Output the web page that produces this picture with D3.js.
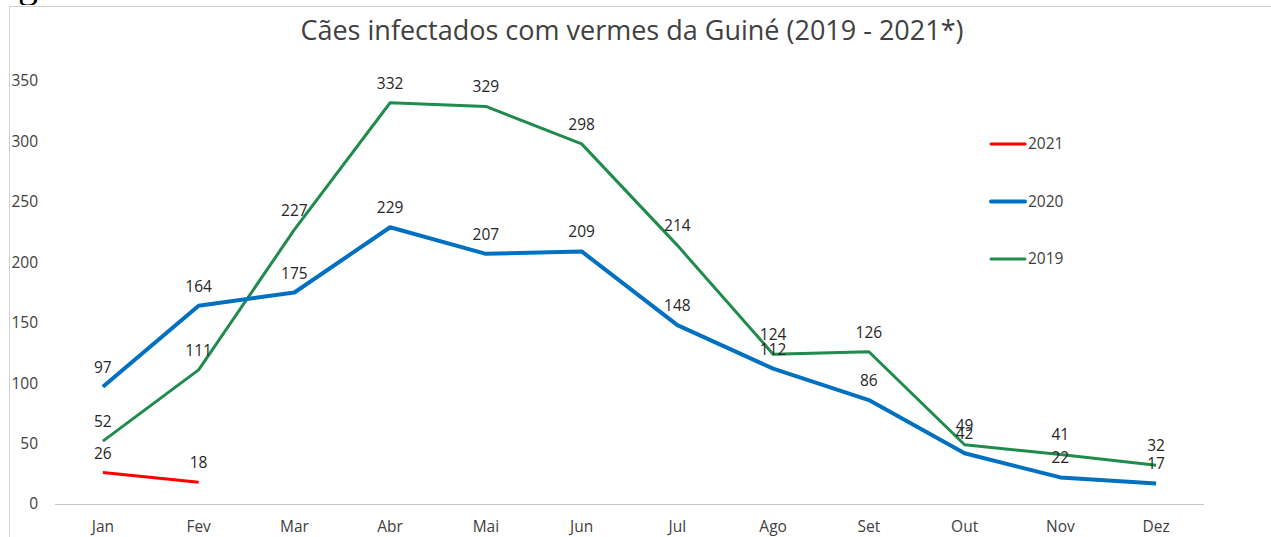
<!DOCTYPE html>
<meta charset="utf-8">
<script src="https://d3js.org/d3.v7.min.js"></script>
<style>
  body { margin: 0; background: #fff; }
  text { font-family: "Open Sans", "Liberation Sans", sans-serif; }
</style>
<div id="my_dataviz"></div>
<script>
    // data
    const months = ["Jan", "Fev", "Mar", "Abr", "Mai", "Jun", "Jul", "Ago", "Set", "Out", "Nov", "Dez"];
    const v2019 = [52, 111, 227, 332, 329, 298, 214, 124, 126, 49, 41, 32];
    const v2020 = [97, 164, 175, 229, 207, 209, 148, 112, 86, 42, 22, 17];
    const v2021 = [26, 18];
    const yTicks = [0, 50, 100, 150, 200, 250, 300, 350];

    const series = [
        { name: "2021", values: v2021, color: "#ff0000", width: 3 },
        { name: "2020", values: v2020, color: "#0070c0", width: 4 },
        { name: "2019", values: v2019, color: "#1f8b4c", width: 3 }
    ];

    const W = 1271, H = 537;
    const svg = d3.select("#my_dataviz")
        .append("svg")
        .attr("width", W)
        .attr("height", H);

    // stray serif glyph of the page behind the chart
    svg.append("text")
        .attr("x", 18).attr("y", -3)
        .style("font-family", "Liberation Serif, serif")
        .style("font-size", "40px")
        .attr("fill", "#000")
        .text("g");
    svg.append("rect")
        .attr("x", 0).attr("y", 5).attr("width", W).attr("height", H)
        .attr("fill", "#fff");

    // chart frame
    svg.append("rect")
        .attr("x", 9.5).attr("y", 6.5)
        .attr("width", W + 10).attr("height", H + 10)
        .attr("fill", "none")
        .attr("stroke", "#d0d0d0");

    svg.append("text")
        .attr("x", 632).attr("y", 40)
        .attr("text-anchor", "middle")
        .style("font-size", "27px")
        .attr("fill", "#404040")
        .text("Cães infectados com vermes da Guiné (2019 - 2021*)");

    const x = d3.scaleBand()
        .domain(months)
        .range([55, 1204]);
    const y = d3.scaleLinear()
        .domain([0, 350])
        .range([504, 81]);
    const cx = m => x(m) + x.bandwidth() / 2;

    // y axis labels (no axis line, no gridlines)
    svg.append("g")
        .attr("transform", "translate(38,0)")
        .call(d3.axisLeft(y).tickValues(yTicks).tickSize(0).tickPadding(0))
        .call(g => g.select(".domain").remove())
        .selectAll("text")
        .style("font-size", "15.5px")
        .style("font-family", "Open Sans, sans-serif")
        .attr("fill", "#404040");

    // x axis
    svg.append("g")
        .attr("transform", `translate(0,${y(0)})`)
        .call(d3.axisBottom(x).tickSize(0).tickPadding(17))
        .call(g => g.select(".domain").attr("stroke", "#c8c8c8").attr("d", "M55,0.5H1204"))
        .selectAll("text")
        .style("font-size", "15.5px")
        .style("font-family", "Open Sans, sans-serif")
        .attr("fill", "#404040");

    const line = d3.line()
        .x((d, i) => cx(months[i]))
        .y(d => y(d));

    // draw 2019 first, then 2020, then 2021 on top
    const order = [series[2], series[1], series[0]];
    order.forEach(s => {
        svg.append("path")
            .datum(s.values)
            .attr("fill", "none")
            .attr("stroke", s.color)
            .attr("stroke-width", s.width)
            .attr("stroke-linejoin", "round")
            .attr("d", line);
    });

    order.forEach(s => {
        svg.selectAll(".lbl" + s.name)
            .data(s.values)
            .join("text")
            .attr("x", (d, i) => cx(months[i]))
            .attr("y", d => y(d) - 14)
            .attr("text-anchor", "middle")
            .style("font-size", "15.5px")
            .attr("fill", "#262626")
            .text(d => d);
    });

    // legend
    const leg = svg.append("g");
    series.forEach((s, i) => {
        const ly = 144 + i * 57.5;
        leg.append("line")
            .attr("x1", 991).attr("x2", 1025)
            .attr("y1", ly).attr("y2", ly)
            .attr("stroke", s.color)
            .attr("stroke-width", s.width)
            .attr("stroke-linecap", "round");
        leg.append("text")
            .attr("x", 1028).attr("y", ly + 5)
            .style("font-size", "15.5px")
            .attr("fill", "#404040")
            .text(s.name);
    });
</script>
